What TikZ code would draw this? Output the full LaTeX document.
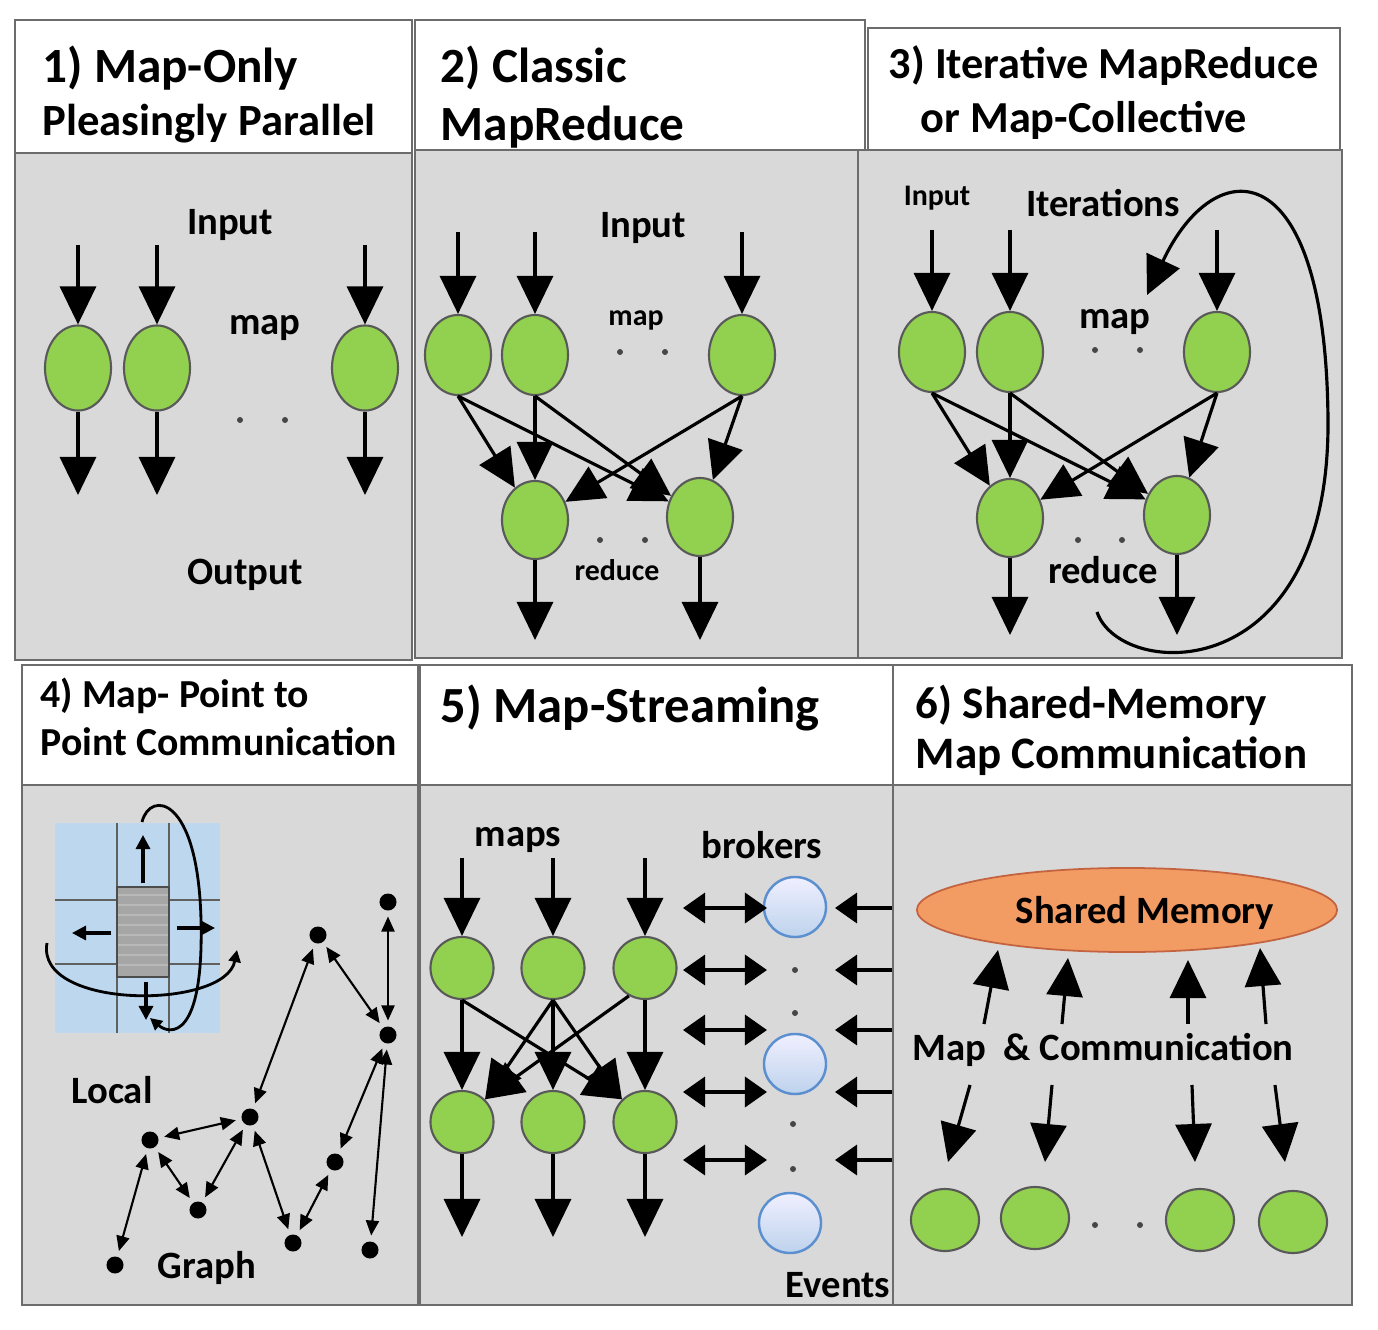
\documentclass[tikz,border=0pt]{standalone}
\usepackage{fontspec}
\setmainfont{Carlito}
\usetikzlibrary{arrows.meta,shapes.geometric,positioning}
\definecolor{mapgreen}{HTML}{92D050}
\definecolor{panelgray}{HTML}{D9D9D9}
\definecolor{gridblue}{HTML}{BDD7EE}
\definecolor{memorange}{HTML}{F29B63}
\definecolor{brokerblue}{HTML}{5B8FD0}
\tikzset{
  panelframe/.style={draw=gray!85!black, line width=0.6pt},
  ttl/.style={anchor=base west, inner sep=0pt},
  lbl/.style={font=\bfseries\fontsize{11}{13}\selectfont, inner sep=0pt},
  smalllbl/.style={font=\bfseries\fontsize{8.5}{10}\selectfont, inner sep=0pt},
  mapnode/.style={ellipse, draw=gray!70!black, line width=0.6pt, fill=mapgreen,
    inner sep=0pt, minimum width=0.66cm, minimum height=0.82cm},
  brokernode/.style={ellipse, draw=brokerblue, line width=0.7pt, top color=blue!6,
    bottom color=brokerblue!40, inner sep=0pt, minimum width=0.62cm, minimum height=0.6cm},
  bigarrow/.style={line width=0.9pt, -{Triangle[width=0.36cm,length=0.38cm]}},
  duparrow/.style={line width=1pt, {Triangle[width=0.3cm,length=0.22cm]}-{Triangle[width=0.3cm,length=0.22cm]}},
  evarrow/.style={line width=1pt, -{Triangle[width=0.3cm,length=0.22cm]}},
  gridarrow/.style={line width=0.9pt, -{Triangle[width=0.14cm,length=0.14cm]}},
  looparrow/.style={line width=0.8pt, -{Triangle[width=0.12cm,length=0.12cm]}},
  dotmark/.style={circle, fill=gray!55!black, inner sep=0pt, minimum size=0.06cm},
  gnode/.style={circle, fill=black, inner sep=0pt, minimum size=0.17cm, outer sep=0.06cm},
  glink/.style={line width=0.6pt, {Triangle[width=0.13cm,length=0.15cm]}-{Triangle[width=0.13cm,length=0.15cm]}},
}
\begin{document}
\begin{tikzpicture}[x=0.01cm,y=-0.01cm]
\useasboundingbox (0,0) rectangle (1378,1330);

% 1) Map-Only
\draw[panelframe,fill=white] (15,20) rectangle (412,153);
\draw[panelframe,fill=panelgray] (15,153) rectangle (412,660);
\node[ttl,font=\bfseries\fontsize{14}{16}\selectfont] (t1a) at (42,82) {1) Map-Only};
\node[ttl,font=\bfseries\fontsize{12.7}{15}\selectfont] (t1b) at (42,136) {Pleasingly Parallel};
\node[lbl] (in1) at (230,225) {Input};
\node[lbl] (map1) at (265,328) {map};
\node[lbl] (out1) at (245,575) {Output};
\node[dotmark] (d1a) at (240,420) {};
\node[dotmark] (d1b) at (285,420) {};
\foreach \n/\x in {1/78,2/157,3/365}{
  \node[mapnode,minimum height=0.85cm] (a\n) at (\x,368) {};
  \coordinate (ain\n) at (\x,245);
  \coordinate (aout\n) at (\x,495);
  \draw[bigarrow] (ain\n) -- (a\n);
  \draw[bigarrow] (a\n) -- (aout\n);
}

% 2) Classic MapReduce
\draw[panelframe,fill=white] (415,20) rectangle (865,150);
\draw[panelframe,fill=panelgray] (415,150) rectangle (862,658);
\node[ttl,font=\bfseries\fontsize{14}{16}\selectfont] (t2a) at (440,82) {2) Classic};
\node[ttl,font=\bfseries\fontsize{14}{16}\selectfont] (t2b) at (440,140) {MapReduce};
\node[lbl] (in2) at (643,228) {Input};
\node[smalllbl] (map2) at (636,320) {map};
\node[smalllbl] (red2) at (617,570) {reduce};
\node[dotmark] (d2a) at (620,352) {};
\node[dotmark] (d2b) at (665,352) {};
\node[dotmark] (d2c) at (600,540) {};
\node[dotmark] (d2d) at (645,540) {};
\foreach \n/\x in {1/458,2/535,3/742}{
  \node[mapnode,minimum height=0.8cm] (b\n) at (\x,355) {};
  \coordinate (bin\n) at (\x,232);
  \draw[bigarrow] (bin\n) -- (b\n);
}
\node[mapnode,minimum height=0.78cm] (br1) at (535,520) {};
\node[mapnode,minimum height=0.78cm] (br2) at (700,517) {};
\foreach \i in {1,2,3}
  \foreach \j in {1,2}
    \draw[bigarrow] (b\i.south) -- (br\j);
\coordinate (bout1) at (535,640);
\coordinate (bout2) at (700,640);
\draw[bigarrow] (br1) -- (bout1);
\draw[bigarrow] (br2) -- (bout2);

% 3) Iterative MapReduce
\draw[panelframe,fill=white] (868,28) rectangle (1340,150);
\draw[panelframe,fill=panelgray] (858,150) rectangle (1342,658);
\node[ttl,font=\bfseries\fontsize{12.6}{15}\selectfont] (t3a) at (888,78) {3) Iterative MapReduce};
\node[ttl,font=\bfseries\fontsize{12.6}{15}\selectfont] (t3b) at (920,132) {or Map-Collective};
\node[smalllbl] (in3) at (937,198) {Input};
\node[lbl] (it3) at (1103,203) {Iterations};
\node[lbl] (map3) at (1115,322) {map};
\node[lbl] (red3) at (1103,570) {reduce};
\node[dotmark] (d3a) at (1095,350) {};
\node[dotmark] (d3b) at (1140,350) {};
\node[dotmark] (d3c) at (1078,540) {};
\node[dotmark] (d3d) at (1122,540) {};
\foreach \n/\x in {1/932,2/1010,3/1217}{
  \node[mapnode,minimum height=0.8cm] (c\n) at (\x,352) {};
  \coordinate (cin\n) at (\x,230);
  \draw[bigarrow] (cin\n) -- (c\n);
}
\node[mapnode,minimum height=0.78cm] (cr1) at (1010,518) {};
\node[mapnode,minimum height=0.78cm] (cr2) at (1177,515) {};
\foreach \i in {1,2,3}
  \foreach \j in {1,2}
    \draw[bigarrow] (c\i.south) -- (cr\j);
\coordinate (cout1) at (1010,635);
\coordinate (cout2) at (1177,635);
\draw[bigarrow] (cr1) -- (cout1);
\draw[bigarrow] (cr2) -- (cout2);
% iteration loop
\coordinate (loopa) at (1097,612);
\coordinate (loopb) at (1147,295);
\draw[line width=0.9pt,-{Triangle[width=0.36cm,length=0.38cm]}] (loopa)
  .. controls (1120,680) and (1330,690) .. (1328,420)
  .. controls (1326,150) and (1215,150) .. (loopb);

% 4) Map-Point to Point
\draw[panelframe,fill=white] (22,665) rectangle (418,785);
\draw[panelframe,fill=panelgray] (22,785) rectangle (418,1305);
\node[ttl,font=\bfseries\fontsize{11.3}{13}\selectfont] (t4a) at (40,707) {4) Map- Point to};
\node[ttl,font=\bfseries\fontsize{11.3}{13}\selectfont] (t4b) at (40,755) {Point Communication};
% local grid
\fill[gridblue] (55,823) rectangle (220,1033);
\foreach \x in {117,169} \draw[gray!75!black, line width=0.7pt] (\x,823) -- (\x,1033);
\foreach \y in {900,964} \draw[gray!75!black, line width=0.7pt] (55,\y) -- (220,\y);
\node[rectangle, draw=gray!60!black, fill=gray!70, minimum width=0.52cm, minimum height=0.9cm,
  inner sep=0pt] (cell) at (143,932) {};
\foreach \y in {895,905,915,925,935,945,955,965}
  \draw[gray!55, line width=0.4pt] (118,\y) -- (168,\y);
\coordinate (cup) at (143,835);
\coordinate (cleft) at (72,933);
\coordinate (cright) at (215,928);
\coordinate (cdown) at (146,1020);
\draw[gridarrow] (143,883) -- (cup);
\draw[gridarrow] (cell.west |- cleft) ++(-5,0) -- (cleft);
\draw[gridarrow] (cell.east |- cright) ++(7,0) -- (cright);
\draw[gridarrow] (146,982) -- (cdown);
\coordinate (hla) at (47,943);
\coordinate (hlb) at (237,950);
\draw[looparrow] (hla) .. controls (35,1010) and (225,1010) .. (hlb);
\coordinate (vla) at (142,822);
\coordinate (vlb) at (150,1018);
\draw[looparrow] (vla) .. controls (150,790) and (198,795) .. (201,920)
  .. controls (204,1040) and (170,1035) .. (vlb);
\node[lbl] (loc4) at (112,1090) {Local};
% graph
\foreach \n/\x/\y in {1/115/1265,2/150/1140,3/198/1210,4/250/1117,5/318/935,
  6/388/902,7/388/1035,8/293/1243,9/335/1162,10/370/1250}
  \node[gnode] (g\n) at (\x,\y) {};
\foreach \u/\v in {1/2,2/4,2/3,3/4,4/5,5/7,6/7,4/8,8/9,9/7,7/10}
  \draw[glink] (g\u) -- (g\v);
\node[lbl] (gr4) at (207,1268) {Graph};

% 5) Map-Streaming
\draw[panelframe,fill=white] (420,665) rectangle (893,785);
\draw[panelframe,fill=panelgray] (420,785) rectangle (893,1305);
\node[ttl,font=\bfseries\fontsize{14.4}{17}\selectfont] (t5a) at (440,722) {5) Map-Streaming};
\node[lbl] (maps5) at (518,840) {maps};
\node[lbl] (brk5) at (762,845) {brokers};
\node[lbl] (ev5) at (838,1285) {Events};
\foreach \n/\x in {1/462,2/553,3/645}{
  \node[mapnode,minimum width=0.63cm,minimum height=0.62cm] (e\n) at (\x,968) {};
  \node[mapnode,minimum width=0.63cm,minimum height=0.62cm] (f\n) at (\x,1122) {};
  \coordinate (ein\n) at (\x,858);
  \coordinate (fout\n) at (\x,1237);
  \draw[bigarrow] (ein\n) -- (e\n);
  \draw[bigarrow] (e\n) -- (f\n);
  \draw[bigarrow] (f\n) -- (fout\n);
}
\draw[bigarrow] (e1.south) -- (f3.north west);
\draw[bigarrow] (e2.south) -- (f1.north east);
\draw[bigarrow] (e2.south) -- (f3.north west);
\draw[bigarrow] (e3.240) -- (f1.north east);
% brokers
\node[brokernode] (k1) at (795,907) {};
\node[brokernode] (k2) at (795,1064) {};
\node[brokernode] (k3) at (790,1223) {};
\node[dotmark] (d5a) at (795,970) {};
\node[dotmark] (d5b) at (795,1013) {};
\node[dotmark] (d5c) at (793,1124) {};
\node[dotmark] (d5d) at (793,1169) {};
\foreach \r/\y in {1/908,2/970,3/1030,4/1092,5/1160}{
  \coordinate (bl\r) at (683,\y);
  \coordinate (bm\r) at (767,\y);
  \coordinate (er\r) at (893,\y);
  \coordinate (ee\r) at (835,\y);
  \draw[duparrow] (bl\r) -- (bm\r);
  \draw[evarrow] (er\r) -- (ee\r);
}

% 6) Shared-Memory
\draw[panelframe,fill=white] (893,665) rectangle (1352,785);
\draw[panelframe,fill=panelgray] (893,785) rectangle (1352,1305);
\node[ttl,font=\bfseries\fontsize{12.8}{15}\selectfont] (t6a) at (915,718) {6) Shared-Memory};
\node[ttl,font=\bfseries\fontsize{12.8}{15}\selectfont] (t6b) at (915,768) {Map Communication};
\node[ellipse, draw=memorange!80!red!80!black, fill=memorange, line width=0.5pt,
  minimum width=4.2cm, minimum height=0.84cm] (mem) at (1127,910) {};
\node[lbl] (memtxt) at (1145,913) {Shared Memory};
\node[lbl] (comm6) at (1103,1050) {Map~~\& Communication};
\foreach \n/\x/\y in {1/945/1220,2/1035/1218,3/1200/1220,4/1293/1222}
  \node[mapnode,minimum width=0.68cm,minimum height=0.62cm] (h\n) at (\x,\y) {};
\node[dotmark] (d6a) at (1095,1225) {};
\node[dotmark] (d6b) at (1140,1225) {};
\foreach \n/\xa/\xb/\ya/\yb in {1/984/998/1024/950,2/1062/1068/1024/958,
  3/1188/1188/1024/960,4/1266/1260/1024/948}{
  \coordinate (us\n) at (\xa,\ya);
  \coordinate (ut\n) at (\xb,\yb);
  \draw[bigarrow] (us\n) -- (ut\n);
}
\foreach \n/\xa/\xb in {1/970/948,2/1052/1045,3/1192/1195,4/1275/1285}{
  \coordinate (ds\n) at (\xa,1085);
  \coordinate (dt\n) at (\xb,1162);
  \draw[bigarrow] (ds\n) -- (dt\n);
}
\end{tikzpicture}
\end{document}
